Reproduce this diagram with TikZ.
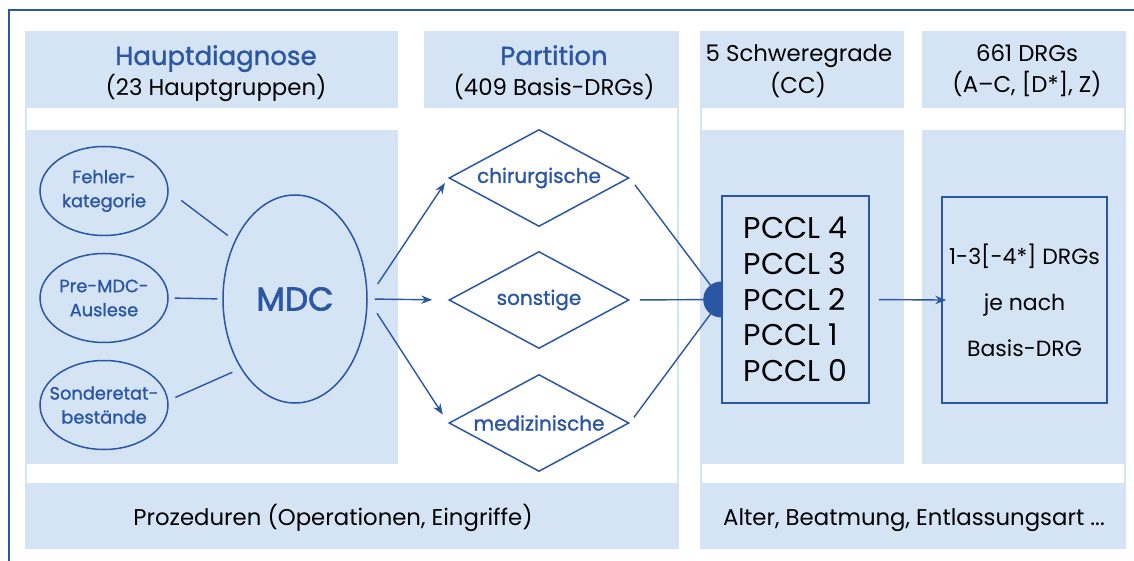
\documentclass[tikz,border=0pt]{standalone}
\usepackage{fontspec}
\setmainfont{Poppins}
\newfontfamily\medium{Poppins}[FakeBold=1.2]
\newfontfamily\heavy{Poppins}[FakeBold=2]
\usetikzlibrary{shapes.geometric,arrows.meta}
\definecolor{drgblue}{RGB}{43,86,163}
\definecolor{drgpale}{RGB}{212,228,245}
\newcommand\headfont{\medium\fontsize{13}{15}\selectfont}
\newcommand\subfont{\fontsize{11.4}{14}\selectfont}
\newcommand\ovalfont{\medium\fontsize{8.9}{12}\selectfont}
\newcommand\choicefont{\medium\fontsize{10}{12}\selectfont}
\newcommand\mdcfont{\heavy\fontsize{16.5}{20}\selectfont}
\newcommand\pcclfont{\fontsize{15}{17.85}\selectfont}
\newcommand\drgfont{\fontsize{11}{23}\selectfont}
\tikzset{
  panel/.style={fill=drgpale},
  cut/.style={fill=white},
  head/.style={anchor=base,text=drgblue,font=\headfont},
  sub/.style={anchor=base,font=\subfont},
  oval/.style={ellipse,draw=drgblue,line width=0.75pt,text=drgblue,align=center,
    inner xsep=-7pt,inner ysep=0pt,minimum width=64pt,minimum height=44.5pt,font=\ovalfont},
  choice/.style={diamond,draw=drgblue,line width=0.75pt,fill=white,text=drgblue,
    inner sep=0pt,minimum width=90pt,minimum height=48.5pt,shape aspect=2,
    font=\choicefont},
  box/.style={rectangle,draw=drgblue,line width=0.75pt,inner sep=0pt},
  link/.style={drgblue,line width=0.7pt},
  flow/.style={link,-{Stealth[length=5.5pt,width=4.2pt]}},
}
\begin{document}
\begin{tikzpicture}[x=0.5pt,y=-0.5pt]
  \useasboundingbox (0,0) rectangle (1134,561);
  \fill[panel] (25,31) rectangle (398,549);
  \fill[panel] (424,31) rectangle (679,549);
  \fill[panel] (398,483) rectangle (424,549);
  \fill[panel] (700,31) rectangle (904,549);
  \fill[panel] (922,31) rectangle (1126,549);
  \fill[panel] (904,483) rectangle (922,549);
  \fill[cut] (27,108) rectangle (677,130);
  \fill[cut] (27,464) rectangle (677,483);
  \fill[cut] (398,108) rectangle (677,483);
  \fill[cut] (702,108) rectangle (1124,130);
  \fill[cut] (702,464) rectangle (1124,483);
  \draw[drgblue,line width=0.75pt] (9,561) -- (9,10) -- (1134,10);

  \node[head] (hd) at (216,65) {Hauptdiagnose};
  \node[sub] (hdsub) at (216,96) {(23 Hauptgruppen)};
  \node[head] (part) at (554,65) {Partition};
  \node[sub] (partsub) at (554,96) {(409 Basis-DRGs)};
  \node[sub] (cc) at (799,62) {5 Schweregrade};
  \node[sub] (ccsub) at (798,94) {(CC)};
  \node[sub] (drgs) at (1027,62) {661 DRGs};
  \node[sub] (drgssub) at (1027,93) {(A–C, [D*], Z)};
  \node[sub] (proc) at (333,525) {Prozeduren (Operationen, Eingriffe)};
  \node[sub] (misc) at (914,525) {Alter, Beatmung, Entlassungsart ...};

  \node[oval] (fehler) at (104,191) {Fehler-\\kategorie};
  \node[oval] (premdc) at (104,298) {Pre-MDC-\\Auslese};
  \node[oval] (sonder) at (104,405) {Sonderetat-\\bestände};
  \node[oval,inner sep=0pt,minimum width=72pt,minimum height=104pt,font=\mdcfont] (mdc) at (295,299) {MDC};

  \node[choice] (chir) at (539,178) {chirurgische};
  \node[choice] (sonst) at (539,300) {sonstige};
  \node[choice] (med) at (539,423) {medizinische};

  \node[box,minimum width=73.5pt,minimum height=103.5pt,align=left,font=\pcclfont] (pccl) at (795.5,299.5)
    {PCCL 4\\PCCL 3\\PCCL 2\\PCCL 1\\PCCL 0};
  \node[box,minimum width=82.5pt,minimum height=103pt,align=center,font=\drgfont] (drg) at (1024.5,300)
    {1-3[-4*] DRGs\\je nach\\Basis-DRG};

  \draw[link,shorten <=7.8pt,shorten >=4.3pt] (fehler.east) -- (mdc.136);
  \draw[link,shorten <=3pt,shorten >=2.5pt] (premdc.east) -- (mdc.west);
  \draw[link,shorten <=3.8pt,shorten >=4.5pt] (sonder.4) -- (mdc.232);

  \draw[flow,shorten <=9pt,shorten >=3pt] (mdc.east) -- (chir.west);
  \draw[flow,shorten <=3.5pt,shorten >=8pt] (mdc.east) -- (sonst.west);
  \draw[flow,shorten <=8.5pt,shorten >=5pt] (mdc.east) -- (med.west);

  \draw[link,shorten <=4.3pt,shorten >=9pt] (chir.east) -- (pccl.west);
  \draw[link,shorten <=5pt,shorten >=8.5pt] (sonst.east) -- (pccl.west);
  \draw[link,shorten <=3.5pt,shorten >=9pt] (med.east) -- (pccl.west);
  \fill[drgblue] ([yshift=9pt]pccl.west) arc[start angle=90,end angle=270,radius=9pt] -- cycle;

  \draw[flow,shorten <=4.5pt,shorten >=-2.5pt] (pccl.east) -- (drg.west);
\end{tikzpicture}
\end{document}
